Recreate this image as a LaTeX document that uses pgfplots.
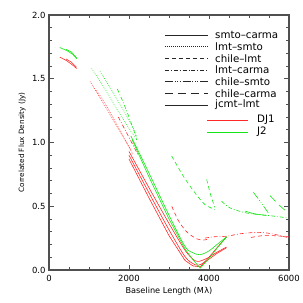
\documentclass[border=0pt]{standalone}
\usepackage{pgfplots}
\pgfplotsset{compat=1.18}
\usepackage{fontspec}
\setmainfont{DejaVu Sans}
\definecolor{djred}{RGB}{255,40,40}
\definecolor{jgreen}{RGB}{20,230,20}
\definecolor{axgray}{RGB}{80,80,80}
\tikzset{
  ldot/.style={dash pattern=on 0.7pt off 1.3pt},
  ldash/.style={dash pattern=on 4pt off 3pt},
  ldashdot/.style={dash pattern=on 4pt off 2pt on 0.8pt off 2pt},
  ldash3dot/.style={dash pattern=on 8pt off 2pt on 0.8pt off 1.6pt on 0.8pt off 1.6pt on 0.8pt off 2pt},
  llong/.style={dash pattern=on 8pt off 5pt},
}
\begin{document}
\begin{tikzpicture}
\begin{axis}[name=ax, scale only axis, width=240bp, height=255bp,
  xmin=0, xmax=6000, ymin=0, ymax=2,
  xtick={0,2000,4000,6000}, ytick={0,0.5,1,1.5,2},
  minor x tick num=3, minor y tick num=4,
  tick align=inside, major tick length=4.5bp, minor tick length=3bp,
  axis line style={axgray, line width=1.1pt},
  every tick/.style={axgray, line width=0.6pt},
  scaled x ticks=false,
  xticklabel style={/pgf/number format/1000 sep={}, font=\fontsize{8.5}{10}\selectfont, yshift=-2bp},
  yticklabel style={/pgf/number format/fixed, /pgf/number format/fixed zerofill, /pgf/number format/precision=1, font=\fontsize{8.5}{10}\selectfont, xshift=0bp},
  /pgf/number format/assume math mode=true,
  xlabel={Baseline Length (M\kern0.5pt λ)},
  ylabel={Correlated Flux Density (Jy)},
  xlabel style={at={(axis description cs:0.5,-0.085)}, anchor=center, font=\fontsize{8.2}{10}\selectfont},
  ylabel style={at={(axis description cs:-0.1125,0.5)}, anchor=center, font=\fontsize{7.3}{9}\selectfont},
  every axis plot/.append style={line width=0.6pt},
  clip=true,
]
% ---------- DJ1 (red) ----------
\addplot[djred] coordinates {(270,1.67) (450,1.64) (600,1.605) (690,1.58)};
\addplot[djred] coordinates {(430,1.655) (560,1.63) (690,1.59)};
\addplot[djred, ldot] coordinates {(1025,1.478) (1300,1.34) (1600,1.18) (1900,1.02) (2100,0.91)};
\addplot[djred, ldot] coordinates {(1190,1.41) (1450,1.28) (1750,1.11) (2050,0.94)};
\addplot[djred, ldashdot] coordinates {(1733,1.20) (1900,1.10) (2100,0.98) (2230,0.90)};
\addplot[djred, smooth] coordinates {(2000,0.93) (2500,0.645) (3000,0.365) (3400,0.155) (3600,0.085) (3700,0.068) (3800,0.072) (4000,0.10) (4200,0.14) (4440,0.18)};
\addplot[djred, smooth] coordinates {(2000,0.90) (2500,0.605) (3000,0.315) (3400,0.105) (3600,0.05) (3700,0.038) (3800,0.045) (4000,0.085) (4200,0.13) (4440,0.175)};
\addplot[djred] coordinates {(2000,0.87) (2500,0.565) (3000,0.27) (3400,0.075) (3600,0.032) (3780,0.025) (4000,0.10) (4200,0.175) (4440,0.26)};
\addplot[djred, ldash, smooth] coordinates {(3070,0.50) (3230,0.39) (3440,0.30) (3690,0.245) (3860,0.235) (3950,0.24)};
\addplot[djred, ldashdot, smooth] coordinates {(3900,0.25) (4100,0.26) (4440,0.265) (4800,0.285) (5200,0.295) (5500,0.288) (5800,0.268) (6000,0.252)};
\addplot[djred, ldash, smooth] coordinates {(5050,0.255) (5300,0.268) (5550,0.27) (5800,0.265) (6000,0.26)};
% ---------- J2 (green) ----------
\addplot[jgreen] coordinates {(270,1.745) (450,1.72) (600,1.69) (700,1.655)};
\addplot[jgreen] coordinates {(430,1.73) (560,1.71) (700,1.66)};
\addplot[jgreen, ldot] coordinates {(1067,1.58) (1400,1.42) (1700,1.26) (2000,1.11) (2150,1.04)};
\addplot[jgreen, ldot] coordinates {(1275,1.557) (1550,1.42) (1850,1.26) (2100,1.12) (2200,1.04)};
\addplot[jgreen, ldashdot] coordinates {(1708,1.42) (1850,1.32) (2000,1.20) (2150,1.07) (2190,1.02)};
\addplot[jgreen, smooth] coordinates {(2050,1.05) (2500,0.76) (3000,0.43) (3400,0.185) (3600,0.135) (3780,0.12) (4000,0.15) (4200,0.20) (4440,0.26)};
\addplot[jgreen] coordinates {(2080,1.02) (2500,0.73) (3000,0.40) (3400,0.165) (3600,0.08) (3780,0.015) (4000,0.09) (4200,0.17) (4440,0.26)};
\addplot[jgreen, ldash, smooth] coordinates {(3067,0.894) (3358,0.736) (3650,0.605) (3900,0.513) (4150,0.474)};
\addplot[jgreen, ldash, smooth] coordinates {(3942,0.71) (4050,0.58) (4150,0.49)};
\addplot[jgreen, ldashdot, smooth] coordinates {(4317,0.539) (4525,0.487) (4942,0.447) (5525,0.426) (5983,0.408)};
\addplot[jgreen, smooth] coordinates {(4900,0.462) (5150,0.44) (5442,0.428)};
\addplot[jgreen, ldash3dot, smooth] coordinates {(5108,0.61) (5300,0.53) (5483,0.447)};
\addplot[jgreen, llong, smooth] coordinates {(5525,0.584) (5750,0.51) (5983,0.447)};
% ---------- legend ----------
\begin{scope}[line width=0.6pt, black!85]
\draw (2900,1.843) -- (3975,1.843);
\draw[ldot] (2900,1.751) -- (3975,1.751);
\draw[ldash] (2900,1.660) -- (3975,1.660);
\draw[ldashdot] (2900,1.569) -- (3975,1.569);
\draw[ldash3dot] (2900,1.477) -- (3975,1.477);
\draw[llong, line width=1pt] (2900,1.386) -- (3975,1.386);
\draw (2900,1.294) -- (3975,1.294);
\end{scope}
\begin{scope}[every node/.style={anchor=west, inner sep=0pt, font=\fontsize{10.3}{12}\selectfont}]
\node at (4150,1.843) {smto–carma};
\node at (4150,1.751) {lmt–smto};
\node at (4150,1.660) {chile–lmt};
\node at (4150,1.569) {lmt–carma};
\node at (4150,1.477) {chile–smto};
\node at (4150,1.386) {chile–carma};
\node at (4150,1.294) {jcmt–lmt};
\node at (5200,1.176) {DJ1};
\node at (5200,1.082) {J2};
\end{scope}
\draw[djred, line width=0.6pt] (3950,1.176) -- (4975,1.176);
\draw[jgreen, line width=0.6pt] (3950,1.082) -- (4975,1.082);
\end{axis}
\pgfresetboundingbox
\path ([shift={(-49bp,-33bp)}]ax.south west) rectangle ([shift={(14bp,15bp)}]ax.north east);
\end{tikzpicture}
\end{document}
